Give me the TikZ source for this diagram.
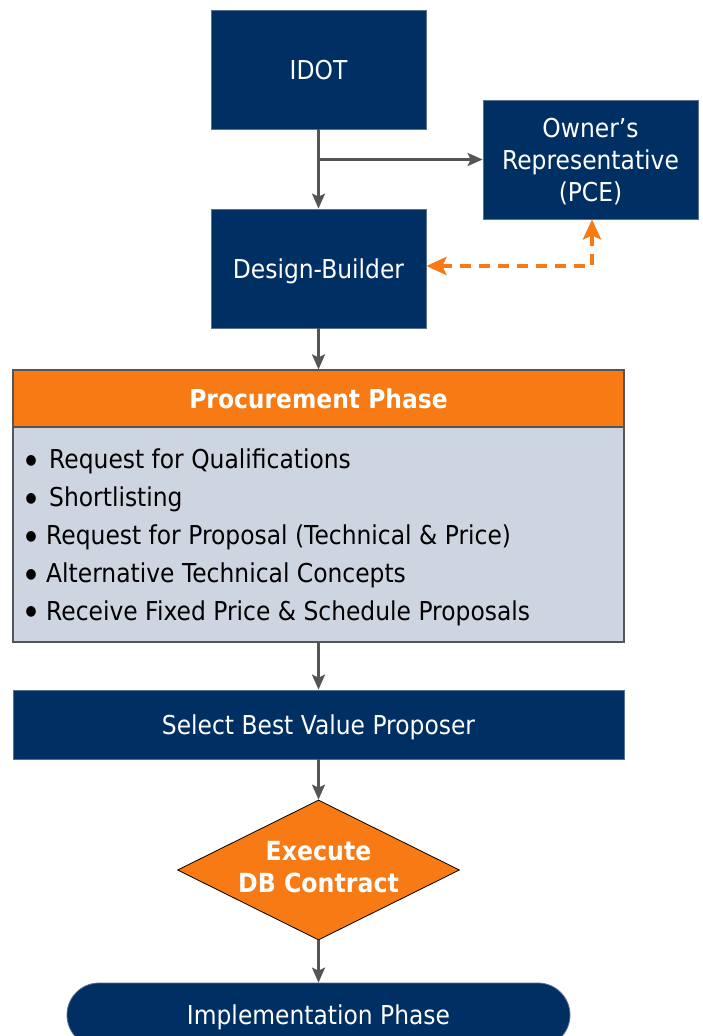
\documentclass[tikz,border=0pt]{standalone}
\usepackage{fontspec}
\setmainfont{DejaVu Sans}[FakeStretch=0.9]
\usetikzlibrary{arrows.meta,shapes.geometric}
\definecolor{navy}{HTML}{003063}
\definecolor{navyline}{HTML}{5A7090}
\definecolor{orng}{HTML}{F77A14}
\definecolor{bodyc}{HTML}{CDD6E0}
\definecolor{conn}{HTML}{555555}
\begin{document}
\begin{tikzpicture}[x=1pt,y=-1pt,
  navybox/.style={draw=navyline,line width=0.8pt,fill=navy,text=white,inner sep=0pt,
    align=center,text depth=0pt,font=\fontsize{26}{32}\selectfont},
  flowarrow/.style={draw=conn,line width=2.5pt,-{Stealth[length=15pt,width=13pt,inset=3pt]}},
  dasharrow/.style={draw=orng,line width=4pt,dash pattern=on 11pt off 8pt,
    {Stealth[length=20pt,width=18pt,inset=4pt]}-{Stealth[length=20pt,width=18pt,inset=4pt]}},
  bullettext/.style={anchor=west,inner sep=0pt,font=\fontsize{26}{31}\selectfont,text=black},
  bulletdot/.style={inner sep=0pt,font=\fontsize{14}{14}\selectfont,text=black}
]
\useasboundingbox (0,0) rectangle (702,1036);
\fill[white] (0,0) rectangle (702,1036);

\node[navybox,minimum width=215pt,minimum height=119pt] (idot) at (318.5,69.5) {IDOT};
\node[navybox,minimum width=215pt,minimum height=119pt] (owner) at (590.5,159.5) {Owner’s\\Representative\\(PCE)};
\node[navybox,minimum width=215pt,minimum height=119pt] (db) at (318.5,268.5) {Design-Builder};

\node[draw=conn,line width=1.2pt,fill=orng,text=white,inner sep=0pt,minimum width=611pt,minimum height=57pt,
  font=\bfseries\fontsize{26}{31}\selectfont] (head) at (318.5,398.5) {Procurement Phase};
\node[draw=conn,line width=1.2pt,fill=bodyc,inner sep=0pt,minimum width=611pt,minimum height=215pt] (body) at (318.5,534.5) {};

\node[bulletdot] (d1) at (31,461) {●};
\node[bulletdot] (d2) at (31,499) {●};
\node[bulletdot] (d3) at (31,537) {●};
\node[bulletdot] (d4) at (31,575) {●};
\node[bulletdot] (d5) at (31,612) {●};
\node[bullettext] (b1) at (49,461.5) {Request for Qualifications};
\node[bullettext] (b2) at (49,499) {Shortlisting};
\node[bullettext] (b3) at (46,537.5) {Request for Proposal (Technical \& Price)};
\node[bullettext] (b4) at (46,575.5) {Alternative Technical Concepts};
\node[bullettext] (b5) at (46,613.5) {Receive Fixed Price \& Schedule Proposals};

\node[navybox,minimum width=611pt,minimum height=69pt] (sel) at (318.5,724.5) {Select Best Value Proposer};

\node[diamond,draw=black,line width=0.8pt,fill=orng,inner sep=0pt,minimum width=282pt,minimum height=140pt] (dia) at (318.5,870) {};
\node[text=white,align=center,inner sep=0pt,font=\bfseries\fontsize{26.3}{32}\selectfont] (diatext) at (318.5,867.5) {Execute\\DB Contract};

\node[navybox,rounded corners=32pt,minimum width=503pt,minimum height=64pt] (impl) at (318.5,1015) {Implementation Phase};

\draw[flowarrow] (idot.south) -- (db.north);
\draw[flowarrow] (idot.south |- owner.west) -- (owner.west);
\coordinate (corner) at (592,266);
\draw[dasharrow] (db.east |- corner) -- (corner) -- (corner |- owner.south);
\draw[flowarrow] (db.south) -- (head.north);
\draw[flowarrow] (body.south) -- (sel.north);
\draw[flowarrow] (sel.south) -- (dia.north);
\draw[flowarrow] (dia.south) -- (impl.north);
\end{tikzpicture}
\end{document}
